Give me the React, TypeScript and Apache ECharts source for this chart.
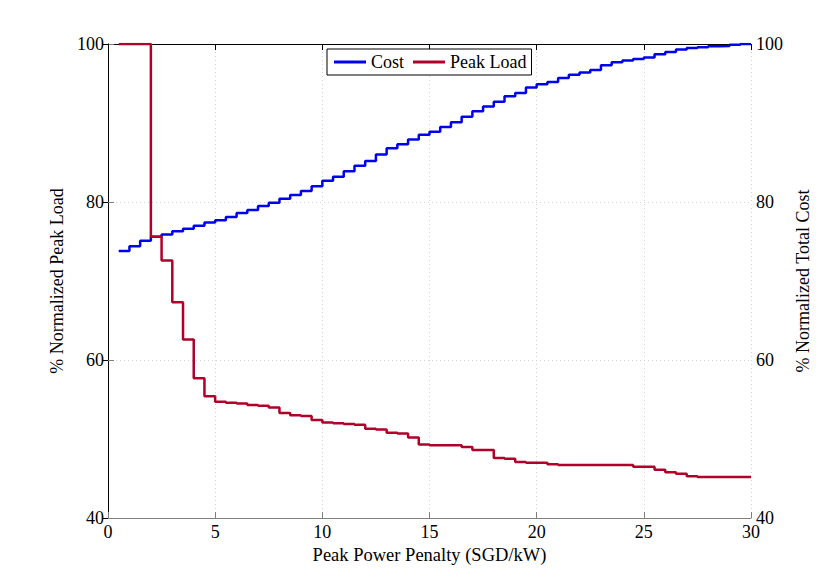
import React, { useEffect, useRef } from "react";
import * as echarts from "echarts";

// Peak power penalty (SGD/kW) at which each step begins
const penalty = [
  0.5, 1, 1.5, 2, 2.5, 3, 3.5, 4, 4.5, 5,
  5.5, 6, 6.5, 7, 7.5, 8, 8.5, 9, 9.5, 10,
  10.5, 11, 11.5, 12, 12.5, 13, 13.5, 14, 14.5, 15,
  15.5, 16, 16.5, 17, 17.5, 18, 18.5, 19, 19.5, 20,
  20.5, 21, 21.5, 22, 22.5, 23, 23.5, 24, 24.5, 25,
  25.5, 26, 26.5, 27, 27.5, 28, 28.5, 29, 29.5, 30,
];

// % Normalized Total Cost
const cost = [
  73.8, 74.4, 75.1, 75.6, 75.9, 76.3, 76.6, 77.0, 77.4, 77.7,
  78.1, 78.6, 79.0, 79.5, 79.9, 80.4, 80.9, 81.4, 82.0, 82.7,
  83.2, 83.9, 84.6, 85.2, 86.0, 86.8, 87.3, 87.9, 88.5, 88.9,
  89.5, 90.1, 90.8, 91.5, 92.1, 92.7, 93.4, 93.8, 94.5, 94.9,
  95.2, 95.7, 96.1, 96.4, 96.7, 97.3, 97.7, 97.9, 98.1, 98.3,
  98.7, 99.0, 99.3, 99.5, 99.6, 99.7, 99.75, 99.9, 100, 100,
];

// % Normalized Peak Load
const peakLoad = [
  100, 100, 100, 75.6, 72.6, 67.3, 62.6, 57.7, 55.4, 54.7,
  54.6, 54.5, 54.3, 54.2, 54.0, 53.3, 53.0, 52.9, 52.4, 52.1,
  52.0, 51.9, 51.8, 51.3, 51.2, 50.8, 50.7, 50.2, 49.3, 49.2,
  49.2, 49.2, 49.0, 48.6, 48.6, 47.6, 47.5, 47.1, 47.0, 47.0,
  46.8, 46.7, 46.7, 46.7, 46.7, 46.7, 46.7, 46.7, 46.5, 46.5,
  46.1, 45.8, 45.6, 45.3, 45.2, 45.2, 45.2, 45.2, 45.2, 45.2,
];

const seriesNames = ["Cost", "Peak Load"];
const xTitle = "Peak Power Penalty (SGD/kW)";
const yLeftTitle = "% Normalized Peak Load";
const yRightTitle = "% Normalized Total Cost";

const FONT = "Liberation Serif";
const GRAY = "#808080";
const GRID_COLOR = "#d4d4d4";

export default function App() {
  const ref = useRef<HTMLDivElement>(null);

  useEffect(() => {
    if (!ref.current) return;
    const chart = echarts.init(ref.current, undefined, { renderer: "svg" });
    const costData = penalty.map((x, i) => [x, cost[i]]);
    const loadData = penalty.map((x, i) => [x, peakLoad[i]]);

    const label = { fontFamily: FONT, fontSize: 18, color: "#000" };

    chart.setOption({
      animation: false,
      backgroundColor: "#ffffff",
      textStyle: { fontFamily: FONT, color: "#000" },
      grid: { left: 108, right: 79, top: 44, bottom: 64, containLabel: false },
      legend: {
        data: seriesNames,
        left: 327,
        top: 49,
        orient: "horizontal",
        icon: "rect",
        itemWidth: 32,
        itemHeight: 3,
        itemGap: 9,
        padding: [4, 5, 4, 7],
        borderColor: "#000",
        borderWidth: 1,
        backgroundColor: "#fff",
        textStyle: label,
      },
      xAxis: [
        {
          type: "value",
          position: "bottom",
          min: 0,
          max: 30,
          interval: 5,
          name: xTitle,
          nameLocation: "middle",
          nameGap: 22,
          nameTextStyle: { ...label, fontSize: 18.5 },
          axisLine: { show: true, lineStyle: { color: GRAY, width: 1 } },
          axisTick: { show: true, inside: true, length: 6, lineStyle: { color: GRAY } },
          axisLabel: { ...label, margin: 5 },
          splitLine: { show: true, lineStyle: { color: GRID_COLOR, type: [1, 3], width: 1 } },
        },
        {
          type: "value",
          position: "top",
          min: 0,
          max: 30,
          interval: 5,
          axisLine: { show: true, lineStyle: { color: "#000", width: 1 } },
          axisTick: { show: true, inside: true, length: 6, lineStyle: { color: "#000" } },
          axisLabel: { show: false },
          splitLine: { show: false },
        },
      ],
      yAxis: [
        {
          type: "value",
          position: "left",
          min: 40,
          max: 100,
          interval: 20,
          name: yLeftTitle,
          nameLocation: "middle",
          nameGap: 33,
          nameTextStyle: label,
          axisLine: { show: true, lineStyle: { color: GRAY, width: 1 } },
          axisTick: { show: true, inside: true, length: 6, lineStyle: { color: GRAY } },
          axisLabel: { ...label, margin: 4 },
          splitLine: { show: true, lineStyle: { color: GRID_COLOR, type: [1, 3], width: 1 } },
        },
        {
          type: "value",
          position: "right",
          min: 40,
          max: 100,
          interval: 20,
          name: yRightTitle,
          nameLocation: "middle",
          nameGap: 29,
          nameTextStyle: label,
          axisLine: { show: true, lineStyle: { color: "#000", width: 1 } },
          axisTick: { show: true, inside: true, length: 6, lineStyle: { color: "#000" } },
          axisLabel: { ...label, margin: 5 },
          splitLine: { show: false },
        },
      ],
      series: [
        {
          name: seriesNames[0],
          type: "line",
          step: "end",
          xAxisIndex: 0,
          yAxisIndex: 1,
          data: costData,
          symbol: "none",
          color: "#0000F0",
          lineStyle: { width: 2.5, color: "#0000F0" },
        },
        {
          name: seriesNames[1],
          type: "line",
          step: "end",
          xAxisIndex: 0,
          yAxisIndex: 0,
          data: loadData,
          symbol: "none",
          color: "#B0002A",
          lineStyle: { width: 2.5, color: "#B0002A" },
        },
      ],
    });

    return () => chart.dispose();
  }, []);

  return (
    <div
      ref={ref}
      style={{ position: "absolute", left: 0, top: 0, width: 830, height: 582 }}
    />
  );
}
